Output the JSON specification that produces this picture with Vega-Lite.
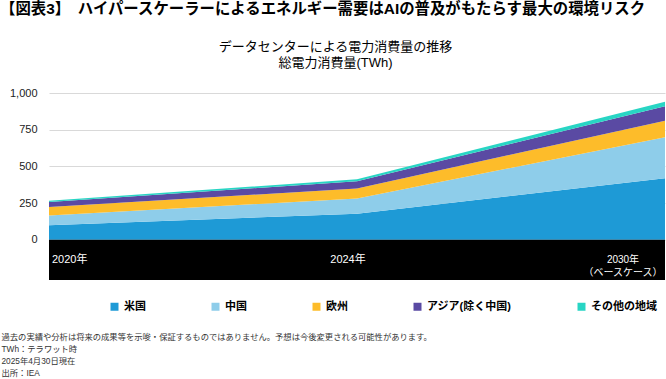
{
  "$schema": "https://vega.github.io/schema/vega-lite/v6.json",
  "width": 616,
  "height": 187,
  "autosize": {"type": "none"},
  "padding": {"left": 49, "top": 93, "right": 1, "bottom": 99},
  "background": "white",
  "config": {
    "font": "Liberation Sans, Noto Sans CJK JP",
    "view": {"stroke": null}
  },
  "title": {
    "text": "【図表3】　ハイパースケーラーによるエネルギー需要はAIの普及がもたらす最大の環境リスク",
    "anchor": "start",
    "frame": "group",
    "orient": "top",
    "fontSize": 15.4,
    "fontWeight": "bold",
    "color": "#000000",
    "dx": -49,
    "offset": 22.5
  },
  "datasets": {
    "energy": [
      {"year": "2020", "region": "米国", "twh": 99},
      {"year": "2020", "region": "中国", "twh": 66},
      {"year": "2020", "region": "欧州", "twh": 57},
      {"year": "2020", "region": "アジア(除く中国)", "twh": 34},
      {"year": "2020", "region": "その他の地域", "twh": 9},
      {"year": "2024", "region": "米国", "twh": 177},
      {"year": "2024", "region": "中国", "twh": 104},
      {"year": "2024", "region": "欧州", "twh": 68},
      {"year": "2024", "region": "アジア(除く中国)", "twh": 50},
      {"year": "2024", "region": "その他の地域", "twh": 13},
      {"year": "2030", "region": "米国", "twh": 419},
      {"year": "2030", "region": "中国", "twh": 279},
      {"year": "2030", "region": "欧州", "twh": 113},
      {"year": "2030", "region": "アジア(除く中国)", "twh": 98},
      {"year": "2030", "region": "その他の地域", "twh": 32}
    ],
    "labels": [
      {"year": "2020", "label": "2020年"},
      {"year": "2024", "label": "2024年"},
      {"year": "2030", "label": "2030年\n（ベースケース）"}
    ]
  },
  "layer": [
    {
      "data": {"name": "energy"},
      "transform": [
        {"calculate": "indexof(['米国','中国','欧州','アジア(除く中国)','その他の地域'], datum.region)", "as": "ord"}
      ],
      "mark": {"type": "area", "line": false, "opacity": 1},
      "encoding": {
        "x": {
          "field": "year",
          "type": "ordinal",
          "scale": {"type": "point", "padding": 0, "domain": ["2020", "2024", "2030"]},
          "axis": {
            "labels": false,
            "ticks": false,
            "domain": false,
            "grid": false,
            "title": [
              "過去の実績や分析は将来の成果等を示唆・保証するものではありません。予想は今後変更される可能性があります。",
              "TWh：テラワット時",
              "2025年4月30日現在",
              "出所：IEA"
            ],
            "titleFontSize": 8.3,
            "titleFontWeight": "normal",
            "titleColor": "#333333",
            "titleAlign": "left",
            "titleBaseline": "top",
            "titleLineHeight": 12.3,
            "titleX": -48,
            "titleY": 52
          }
        },
        "y": {
          "field": "twh",
          "type": "quantitative",
          "stack": "zero",
          "scale": {"domain": [-275, 1000], "nice": false, "zero": false},
          "axis": {
            "values": [0, 250, 500, 750, 1000],
            "format": ",.0f",
            "labelFontSize": 11,
            "labelColor": "#222222",
            "labelPadding": 12,
            "ticks": false,
            "domain": false,
            "gridColor": "#d9d9d9",
            "gridWidth": 1,
            "title": ["データセンターによる電力消費量の推移", "総電力消費量(TWh)"],
            "titleAngle": 0,
            "titleAlign": "center",
            "titleBaseline": "middle",
            "titleX": 286,
            "titleY": -47,
            "titleFontSize": 13,
            "titleFontWeight": "normal",
            "titleLineHeight": 16.6,
            "titleColor": "#000000"
          }
        },
        "color": {
          "field": "region",
          "type": "nominal",
          "scale": {
            "domain": ["米国", "中国", "欧州", "アジア(除く中国)", "その他の地域"],
            "range": ["#1e9ad6", "#8ecdea", "#fdbc2a", "#5a4aa3", "#28d5c4"]
          },
          "legend": {
            "orient": "none",
            "legendX": 60,
            "legendY": 208,
            "direction": "horizontal",
            "title": null,
            "symbolType": "square",
            "symbolSize": 64,
            "symbolStrokeWidth": 0,
            "labelFontSize": 11,
            "labelFontWeight": "bold",
            "labelColor": "#000000",
            "labelOffset": 4,
            "columnPadding": 64
          }
        },
        "order": {"field": "ord", "type": "quantitative"}
      }
    },
    {
      "data": {"values": [{}]},
      "mark": {"type": "rect", "color": "#000000"},
      "encoding": {
        "y": {"datum": -275},
        "y2": {"datum": 0}
      }
    },
    {
      "data": {"name": "labels"},
      "transform": [{"filter": "datum.year == '2020'"}],
      "mark": {"type": "text", "color": "#ffffff", "fontSize": 11, "align": "left", "baseline": "middle", "dx": 3},
      "encoding": {
        "x": {"field": "year", "type": "ordinal"},
        "y": {"datum": -138},
        "text": {"field": "label"}
      }
    },
    {
      "data": {"name": "labels"},
      "transform": [{"filter": "datum.year == '2024'"}],
      "mark": {"type": "text", "color": "#ffffff", "fontSize": 11, "align": "center", "baseline": "middle", "dx": -9},
      "encoding": {
        "x": {"field": "year", "type": "ordinal"},
        "y": {"datum": -138},
        "text": {"field": "label"}
      }
    },
    {
      "data": {"name": "labels"},
      "transform": [{"filter": "datum.year == '2030'"}],
      "mark": {"type": "text", "color": "#ffffff", "fontSize": 10, "align": "center", "baseline": "middle", "dx": -42, "lineBreak": "\n", "lineHeight": 13},
      "encoding": {
        "x": {"field": "year", "type": "ordinal"},
        "y": {"datum": -138},
        "text": {"field": "label"}
      }
    }
  ]
}
